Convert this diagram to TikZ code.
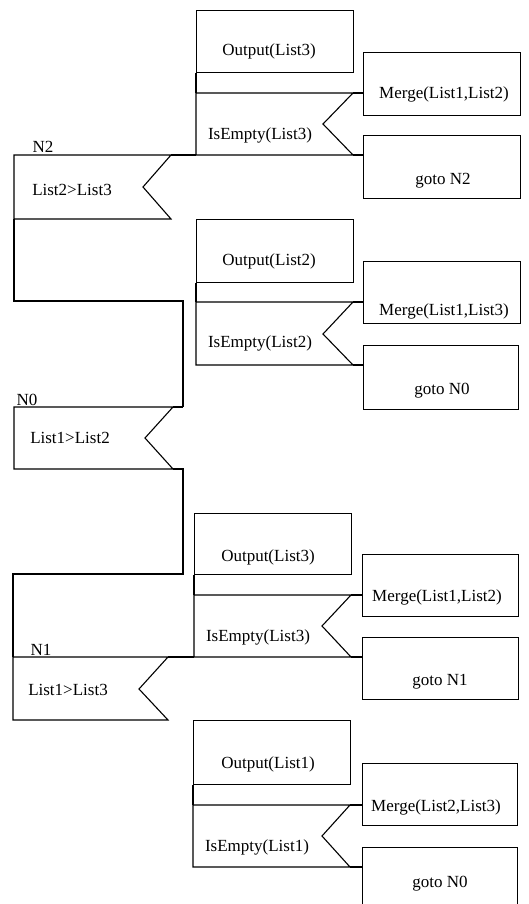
\documentclass[tikz,border=0pt]{standalone}
\usepackage{fontspec}
\setmainfont{Liberation Serif}

\begin{document}
\begin{tikzpicture}[x=1pt, y=-1pt, line width=1.1pt,
    box/.style={draw, rectangle, anchor=north west, inner sep=0pt, minimum width=157pt, minimum height=62pt},
    txt/.style={font=\fontsize{17}{20}\selectfont, inner sep=0pt}]
    \useasboundingbox (0,0) rectangle (528,904);
    \clip (0,0) rectangle (528,904);

    % Block under N2: Output(List3), IsEmpty(List3)
    \node[box] (outA) at (196,10) {};
    \node[txt] (outAtxt) at (269,51) {Output(List3)};
    \node[box, minimum height=63pt] (mergeA) at (363,52) {};
    \node[txt] (mergeAtxt) at (444,94) {Merge(List1,List2)};
    \node[box, minimum height=63pt] (gotoA) at (363,135) {};
    \node[txt] (gotoAtxt) at (443,181) {goto N2};
    \coordinate (isAn) at (353,93);
    \coordinate (isAs) at (353,155);
    \draw (196,93) -- (isAn) -- (323,124) -- (isAs) -- (196,155) -- cycle;
    \draw (outA.south west) -- (196,93);
    \node[txt] (isAtxt) at (260,135) {IsEmpty(List3)};
    \draw (isAn) -- (isAn -| mergeA.west);
    \draw (isAs) -- (isAs -| gotoA.west);

    % Selection N2: List2>List3
    \coordinate (selAn) at (171,155);
    \draw (14,155) -- (selAn) -- (143,187) -- (171,219) -- (14,219) -- cycle;
    \draw (selAn) -- (196,155);
    \node[txt, anchor=base west] (labN2) at (32,153) {N2};
    \node[txt] (selAtxt) at (72,190) {List2>List3};

    % Block: Output(List2), IsEmpty(List2)
    \node[box, minimum height=63pt] (outB) at (196,219) {};
    \node[txt] (outBtxt) at (269,261) {Output(List2)};
    \node[box] (mergeB) at (363,261) {};
    \node[txt] (mergeBtxt) at (444,311) {Merge(List1,List3)};
    \node[box, minimum width=155pt, minimum height=64pt] (gotoB) at (363,345) {};
    \node[txt] (gotoBtxt) at (442,391) {goto N0};
    \coordinate (isBn) at (353,302);
    \coordinate (isBs) at (353,365);
    \draw (196,302) -- (isBn) -- (323,334) -- (isBs) -- (196,365) -- cycle;
    \draw (outB.south west) -- (196,302);
    \node[txt] (isBtxt) at (260,343) {IsEmpty(List2)};
    \draw (isBn) -- (isBn -| mergeB.west);
    \draw (isBs) -- (isBs -| gotoB.west);

    % Left frame down to N0
    \draw (14,219) -- (14,301) -- (183,301) -- (183,407);

    % Selection N0: List1>List2
    \coordinate (selBn) at (173,407);
    \coordinate (selBs) at (173,469);
    \draw (14,407) -- (selBn) -- (145,438) -- (selBs) -- (14,469) -- cycle;
    \draw (selBn) -- (183,407);
    \node[txt, anchor=base west] (labN0) at (16,405) {N0};
    \node[txt] (selBtxt) at (70,438) {List1>List2};
    \draw (selBs) -- (183,469) -- (183,574) -- (13,574) -- (13,657);

    % Block under N1: Output(List3), IsEmpty(List3)
    \node[box, minimum height=61pt] (outC) at (194,513) {};
    \node[txt] (outCtxt) at (268,557) {Output(List3)};
    \node[box, minimum width=156pt] (mergeC) at (362,554) {};
    \node[txt] (mergeCtxt) at (437,597) {Merge(List1,List2)};
    \node[box, minimum width=156pt] (gotoC) at (362,637) {};
    \node[txt] (gotoCtxt) at (440,682) {goto N1};
    \coordinate (isCn) at (351,595);
    \coordinate (isCs) at (351,657);
    \draw (194,595) -- (isCn) -- (322,626) -- (isCs) -- (194,657) -- cycle;
    \draw (outC.south west) -- (194,595);
    \node[txt] (isCtxt) at (258,637) {IsEmpty(List3)};
    \draw (isCn) -- (isCn -| mergeC.west);
    \draw (isCs) -- (isCs -| gotoC.west);

    % Selection N1: List1>List3
    \coordinate (selCn) at (168,657);
    \draw (13,657) -- (selCn) -- (139,689) -- (168,720) -- (13,720) -- cycle;
    \draw (selCn) -- (194,657);
    \node[txt, anchor=base west] (labN1) at (30,655) {N1};
    \node[txt] (selCtxt) at (68,690) {List1>List3};

    % Block: Output(List1), IsEmpty(List1)
    \node[box, minimum height=64pt] (outD) at (193,720) {};
    \node[txt] (outDtxt) at (268,764) {Output(List1)};
    \node[box, minimum width=155pt] (mergeD) at (362,763) {};
    \node[txt] (mergeDtxt) at (436,807) {Merge(List2,List3)};
    \node[box, minimum width=155pt, minimum height=80pt] (gotoD) at (362,847) {};
    \node[txt] (gotoDtxt) at (440,884) {goto N0};
    \coordinate (isDn) at (350,805);
    \coordinate (isDs) at (350,867);
    \draw (193,805) -- (isDn) -- (322,836) -- (isDs) -- (193,867) -- cycle;
    \draw (outD.south west) -- (193,805);
    \node[txt] (isDtxt) at (257,847) {IsEmpty(List1)};
    \draw (isDn) -- (isDn -| mergeD.west);
    \draw (isDs) -- (isDs -| gotoD.west);

\end{tikzpicture}
\end{document}
